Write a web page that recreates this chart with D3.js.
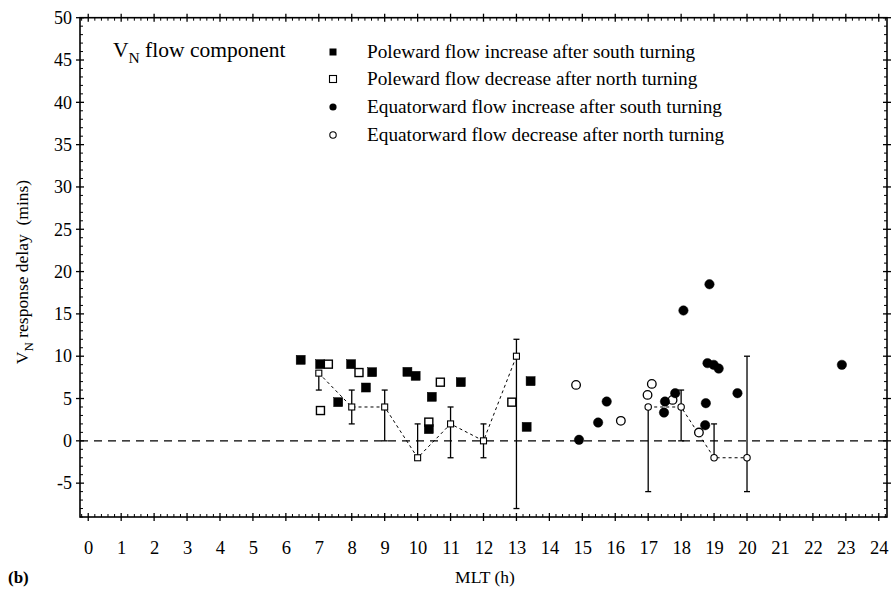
<!DOCTYPE html>
<html><head><meta charset="utf-8">
<script src="https://cdn.jsdelivr.net/npm/d3@7"></script>
<style>body{margin:0;background:#fff}svg{display:block}text{font-family:"Liberation Serif","Times New Roman",serif;fill:#000}</style>
</head><body><svg id="c" width="895" height="589"></svg>
<script>
// MLT hours, response delay (mins)
const poleInc = [[6.45,9.57],[7.04,9.06],[7.98,9.06],[8.62,8.11],[8.43,6.30],[7.59,4.57],[9.69,8.15],[9.94,7.68],[10.43,5.20],[11.31,6.93],[10.34,1.38],[13.43,7.05],[13.31,1.65]];
const poleDec = [[7.29,9.06],[8.22,8.07],[7.05,3.58],[10.69,6.93],[10.34,2.21],[12.86,4.57]];
const equInc = [[18.86,18.5],[18.07,15.4],[18.80,9.18],[18.99,8.98],[19.14,8.54],[22.88,8.98],[19.71,5.63],[17.82,5.63],[17.51,4.64],[17.48,3.34],[18.75,4.45],[18.73,1.85],[15.74,4.64],[15.48,2.16],[14.90,0.12]];
const equDec = [[14.81,6.61],[16.17,2.36],[16.98,5.43],[17.11,6.73],[17.74,4.84],[18.54,0.98]];
// hourly means with ranges: [hour, mean, low, high]
const poleMean = [[7,8,6,8],[8,4,2,6],[9,4,0,6],[10,-2,-2,2],[11,2,-2,4],[12,0,-2,2],[13,10,-8,12]];
const equMean = [[17,4,-6,4],[18,4,0,6],[19,-2,-2,2],[20,-2,-6,10]];
const xTicks = d3.range(0,25);
const yTicks = [-5,0,5,10,15,20,25,30,35,40,45,50];
const legendLabels = ["Poleward flow increase after south turning","Poleward flow decrease after north turning","Equatorward flow increase after south turning","Equatorward flow decrease after north turning"];

const svg = d3.select("#c");
const x = d3.scaleLinear().domain([-0.25,24.25]).range([80,887]);
const y = d3.scaleLinear().domain([-9,50]).range([517,17.7]);
const L=x.range()[0],R=x.range()[1],T=y.range()[1],B=y.range()[0];

// zero line
svg.append("line").attr("x1",L).attr("x2",R).attr("y1",y(0)).attr("y2",y(0))
  .attr("stroke","#000").attr("stroke-width",1.2).attr("stroke-dasharray","8,6");

// minor ticks (inward)
const xMinor = d3.range(-0.2,24.25,0.2).filter(v=>Math.abs(v-Math.round(v))>0.01);
const yMinor = d3.range(-9,50,1).filter(v=>v%5!==0);
const tk = svg.append("g").attr("stroke","#000").attr("stroke-width",1);
xMinor.forEach(v=>{tk.append("line").attr("x1",x(v)).attr("x2",x(v)).attr("y1",B).attr("y2",B-3);
  tk.append("line").attr("x1",x(v)).attr("x2",x(v)).attr("y1",T).attr("y2",T+3);});
yMinor.forEach(v=>{tk.append("line").attr("y1",y(v)).attr("y2",y(v)).attr("x1",L).attr("x2",L+3);
  tk.append("line").attr("y1",y(v)).attr("y2",y(v)).attr("x1",R).attr("x2",R-3);});
// major ticks crossing
const mk = svg.append("g").attr("stroke","#000").attr("stroke-width",1.3);
xTicks.forEach(v=>{mk.append("line").attr("x1",x(v)).attr("x2",x(v)).attr("y1",B-4).attr("y2",B+4);
  mk.append("line").attr("x1",x(v)).attr("x2",x(v)).attr("y1",T-4).attr("y2",T+4);});
yTicks.forEach(v=>{mk.append("line").attr("y1",y(v)).attr("y2",y(v)).attr("x1",L-4).attr("x2",L+4);
  mk.append("line").attr("y1",y(v)).attr("y2",y(v)).attr("x1",R-4).attr("x2",R+4);});

// axes labels via d3 axes
const ax = svg.append("g").attr("transform",`translate(0,${B})`)
  .call(d3.axisBottom(x).tickValues(xTicks).tickSize(0).tickPadding(24).tickFormat(d=>String(d)));
ax.select(".domain").remove();
ax.selectAll("text").attr("font-size",18.5).style("font-family","Liberation Serif");
const ay = svg.append("g").attr("transform",`translate(${L},0)`)
  .call(d3.axisLeft(y).tickValues(yTicks).tickSize(0).tickPadding(8).tickFormat(d=>String(d)));
ay.select(".domain").remove();
ay.selectAll("text").attr("font-size",18).style("font-family","Liberation Serif");

// frame
svg.append("rect").attr("x",L).attr("y",T).attr("width",R-L).attr("height",B-T)
  .attr("fill","none").attr("stroke","#000").attr("stroke-width",1.6);

// error bars
function errBars(data){
  const g = svg.append("g").attr("stroke","#000").attr("stroke-width",1.3);
  data.forEach(d=>{
    g.append("line").attr("x1",x(d[0])).attr("x2",x(d[0])).attr("y1",y(d[2])).attr("y2",y(d[3]));
    [d[2],d[3]].forEach(v=>g.append("line").attr("x1",x(d[0])-3).attr("x2",x(d[0])+3).attr("y1",y(v)).attr("y2",y(v)));
  });
}
errBars(poleMean); errBars(equMean);
const line = d3.line().x(d=>x(d[0])).y(d=>y(d[1]));
[poleMean,equMean].forEach(dat=>svg.append("path").attr("d",line(dat)).attr("fill","none")
  .attr("stroke","#000").attr("stroke-width",1).attr("stroke-dasharray","3,3"));

function squares(data,s,fill,sw){
  svg.append("g").selectAll("rect").data(data).join("rect")
    .attr("x",d=>x(d[0])-s/2).attr("y",d=>y(d[1])-s/2).attr("width",s).attr("height",s)
    .attr("fill",fill).attr("stroke","#000").attr("stroke-width",sw);
}
function circles(data,r,fill,sw){
  svg.append("g").selectAll("circle").data(data).join("circle")
    .attr("cx",d=>x(d[0])).attr("cy",d=>y(d[1])).attr("r",r)
    .attr("fill",fill).attr("stroke","#000").attr("stroke-width",sw);
}
squares(poleDec,8,"#fff",1.4);
squares(poleInc,9,"#000",0.5);
circles(equDec,4.3,"#fff",1.3);
circles(equInc,4.7,"#000",0.5);
squares(poleMean,6,"#fff",1.1);
circles(equMean,3.2,"#fff",1.1);

// title
const t = svg.append("text").attr("x",113).attr("y",57).attr("font-size",21.5);
t.append("tspan").text("V");
t.append("tspan").attr("font-size",15.5).attr("dy",6).text("N");
t.append("tspan").attr("dy",-6).text(" flow component");

// legend
const lg = svg.append("g");
const rows=[52,79,107,135];
legendLabels.forEach((lab,i)=>{
  const cy=rows[i], cx=333;
  if(i===0) lg.append("rect").attr("x",cx-3.5).attr("y",cy-3.5).attr("width",7).attr("height",7).attr("fill","#000");
  if(i===1) lg.append("rect").attr("x",cx-3.5).attr("y",cy-3.5).attr("width",7).attr("height",7).attr("fill","#fff").attr("stroke","#000").attr("stroke-width",1.1);
  if(i===2) lg.append("circle").attr("cx",cx).attr("cy",cy).attr("r",3.6).attr("fill","#000");
  if(i===3) lg.append("circle").attr("cx",cx).attr("cy",cy).attr("r",3.2).attr("fill","#fff").attr("stroke","#000").attr("stroke-width",1.1);
  lg.append("text").attr("x",367).attr("y",cy+6).attr("font-size",19.3).text(lab);
});

// axis titles
svg.append("text").attr("x",485).attr("y",583).attr("text-anchor","middle").attr("font-size",17.5).text("MLT (h)");
svg.append("text").attr("x",8).attr("y",583).attr("font-size",17).attr("font-weight","bold").text("(b)");
const yl = svg.append("text").attr("transform","translate(28,272) rotate(-90)").attr("text-anchor","middle").attr("font-size",17.5);
yl.append("tspan").text("V");
yl.append("tspan").attr("font-size",13).attr("dy",5).text("N");
yl.append("tspan").attr("dy",-5).text(" response delay\u00a0\u00a0(mins)");
</script></body></html>
